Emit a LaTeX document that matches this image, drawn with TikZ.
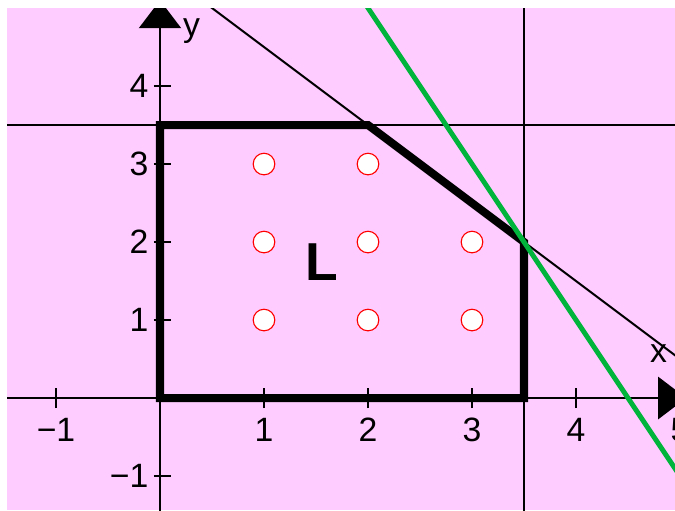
\documentclass[tikz,border=0pt]{standalone}
\usepackage{fontspec}
\setmainfont{Liberation Sans}
\usetikzlibrary{arrows.meta}
\definecolor{lpink}{RGB}{255,204,255}
\definecolor{lgreen}{RGB}{0,180,60}

\begin{document}
\begin{tikzpicture}[x=2.6cm,y=1.95cm,axis/.style={line width=1.8pt,-{Triangle[length=0.7cm,width=1.05cm]}},guide/.style={line width=1.8pt},lattice/.style={circle,draw=red,fill=white,line width=0.8pt,minimum size=0.54cm,inner sep=0pt},lbl/.style={font=\fontsize{24}{28}\selectfont,inner sep=0pt}]
\useasboundingbox (-1.5385,-1.436) rectangle (4.952,5.103);
\fill[lpink] (-1.471,-1.436) rectangle (4.952,5.0);
\clip (-1.471,-1.436) rectangle (4.952,5.0);
\draw[guide] (-1.6,3.5) -- (5.1,3.5);
\draw[guide] (3.5,-1.5) -- (3.5,5.2);
\draw[line width=1.4pt] (0.4,5.1) -- (5.1,0.4);
\draw[axis] (-1.6,0) -- (5.06,0);
\draw[axis] (0,-1.5) -- (0,5.1);
\foreach \x in {-1,1,2,3,4,5} {
   \draw[guide] (\x,-0.13) -- (\x,0.13);
}
\foreach \y in {-1,1,2,3,4} {
   \draw[guide] (-0.06,\y) -- (0.11,\y);
}
\draw[line width=5.7pt] (0,0) -- (0,3.5) -- (2,3.5) -- (3.5,2) -- (3.5,0) -- cycle;
\draw[lgreen,line width=3.5pt] (1.9,5.2) -- (5.2,-1.4);
\foreach \x/\y in {1/1,2/1,3/1,1/2,2/2,3/2,1/3,2/3} {
   \node[lattice] (p\x\y) at (\x,\y) {};
}
\foreach \x/\l in {-1/−1,1/1,2/2,3/3,4/4,5/5} {
   \node[lbl] (xt\x) at (\x,-0.41) {\l};
}
\foreach \y/\l in {-1/−1,1/1,2/2,3/3,4/4} {
   \node[lbl,anchor=east] (yt\y) at (-0.11,\y) {\l};
}
\node[lbl,anchor=base west] (xlbl) at (4.71,0.46) {x};
\node[lbl,anchor=base west] (ylbl) at (0.22,4.64) {y};
\node[inner sep=0pt,font=\fontsize{38}{44}\selectfont\bfseries] (setL) at (1.56,1.74) {L};
\end{tikzpicture}
\end{document}
